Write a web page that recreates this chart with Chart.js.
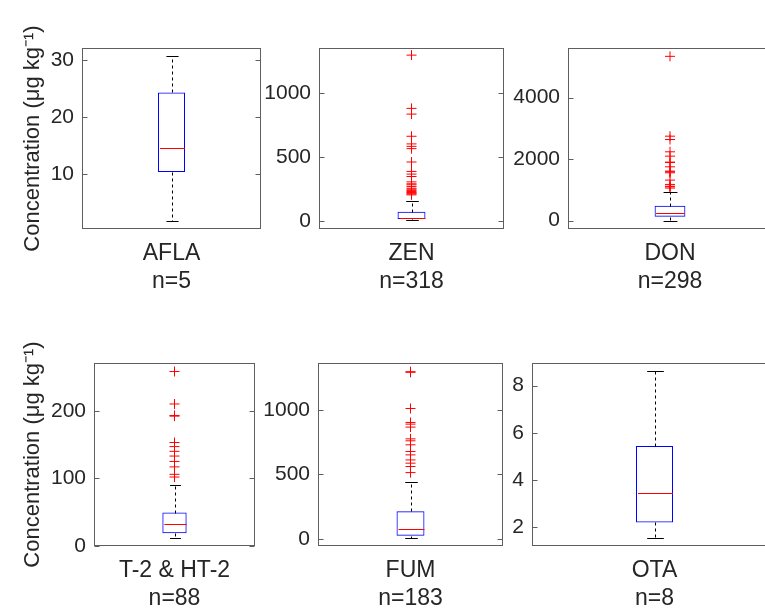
<!DOCTYPE html>
<html>
<head>
<meta charset="utf-8">
<script src="https://cdn.jsdelivr.net/npm/chart.js@4"></script>
<style>
  html, body { margin: 0; padding: 0; background: #fff; overflow: hidden; }
  #wrap { position: relative; width: 765px; height: 608px; overflow: hidden; }
  #wrap canvas { position: absolute; }
</style>
</head>
<body>
<div id="wrap"></div>
<script>
// values (µg/kg)
const categories = ['AFLA', 'ZEN', 'DON', 'T-2 & HT-2', 'FUM', 'OTA'];
const sampleSizes = [5, 318, 298, 88, 183, 8];
const whiskerLow = [1.8, 3, 0, 11.4, 5, 1.53];
const quartile1 = [10.35, 13, 130, 18.8, 26, 2.21];
const medians = [14.5, 24, 259, 32.6, 75, 3.47];
const quartile3 = [24.3, 71, 486, 49.4, 214, 5.45];
const whiskerHigh = [30.7, 158, 940, 90, 439, 8.61];
const outliers = [
  [],
  [1300, 882, 837, 663, 603, 584, 566, 461, 387, 366, 347, 305, 290, 282, 268, 255, 247, 238, 229, 222, 216, 210, 203],
  [5340, 2746, 2638, 2238, 2097, 1903, 1890, 1751, 1611, 1590, 1557, 1319, 1178, 1120, 1103, 1060],
  [258, 210, 193, 192, 153, 147, 140, 133, 125, 117, 106, 102],
  [1295, 1290, 1010, 902, 889, 866, 775, 760, 729, 677, 651, 612, 587, 561, 514],
  []
];
const yMin = [0.35, -65, -270, 0, -54, 1.21];
const yMax = [32.1, 1356, 5611, 270.6, 1362, 8.96];
const yTicks = [[10, 20, 30], [0, 500, 1000], [0, 2000, 4000], [0, 100, 200], [0, 500, 1000], [2, 4, 6, 8]];
const yTitle = 'Concentration (μg kg⁻¹)';

// where each subplot sits on the page (right column runs past the page edge)
const panels = [
  { left: 0,   top: 0,   height: 305, chartLeft: 82,  chartRight: 261, chartTop: 48,  chartBottom: 229 },
  { left: 264, top: 0,   height: 305, chartLeft: 319, chartRight: 509, chartTop: 48,  chartBottom: 229 },
  { left: 512, top: 0,   height: 305, chartLeft: 568, chartRight: 777, chartTop: 48,  chartBottom: 229 },
  { left: 0,   top: 305, height: 303, chartLeft: 94,  chartRight: 260, chartTop: 363, chartBottom: 546 },
  { left: 264, top: 305, height: 303, chartLeft: 318, chartRight: 508, chartTop: 363, chartBottom: 546 },
  { left: 510, top: 305, height: 303, chartLeft: 532, chartRight: 777, chartTop: 363, chartBottom: 546 },
];

const BOX_FRACTION = 0.151;
const TEXT = '#262626';

Chart.defaults.font.family = '"Liberation Sans", Arial, Helvetica, sans-serif';
Chart.defaults.color = TEXT;

const seg = (ctx, x1, y1, x2, y2) => {
  ctx.beginPath();
  ctx.moveTo(x1, y1);
  ctx.lineTo(x2, y2);
  ctx.stroke();
};

// whiskers, caps and median line, then the matlab style frame with inward ticks
const boxExtras = {
  id: 'boxExtras',
  afterDatasetsDraw(chart, args, opts) {
    const i = opts.index;
    const { ctx, chartArea: a, scales: { x, y } } = chart;
    const cx = Math.round(x.getPixelForValue(0)) + 0.5;
    const py = v => Math.round(y.getPixelForValue(v)) + 0.5;
    const half = a.width * BOX_FRACTION / 2;
    const cap = half * 0.45;
    ctx.save();
    ctx.lineWidth = 1;
    ctx.strokeStyle = '#000';
    ctx.setLineDash([3, 3]);
    seg(ctx, cx, py(quartile3[i]), cx, py(whiskerHigh[i]));
    seg(ctx, cx, py(quartile1[i]), cx, py(whiskerLow[i]));
    ctx.setLineDash([]);
    seg(ctx, cx - cap, py(whiskerHigh[i]), cx + cap, py(whiskerHigh[i]));
    seg(ctx, cx - cap, py(whiskerLow[i]), cx + cap, py(whiskerLow[i]));
    ctx.strokeStyle = '#ff0000';
    seg(ctx, cx - half + 1, py(medians[i]), cx + half - 1, py(medians[i]));
    ctx.restore();
  },
  afterDraw(chart) {
    const { ctx, chartArea: a, scales: { y } } = chart;
    const l = Math.round(a.left) + 0.5, r = Math.round(a.right) - 0.5;
    const t = Math.round(a.top) + 0.5, b = Math.round(a.bottom) - 0.5;
    ctx.save();
    ctx.lineWidth = 1;
    ctx.strokeStyle = '#5e5e5e';
    ctx.strokeRect(l, t, r - l, b - t);
    y.ticks.forEach(tk => {
      const yy = Math.round(y.getPixelForValue(tk.value)) + 0.5;
      seg(ctx, l, yy, l + 5, yy);
      seg(ctx, r - 5, yy, r, yy);
    });
    ctx.restore();
  }
};

const wrap = document.getElementById('wrap');

panels.forEach((p, i) => {
  const canvas = document.createElement('canvas');
  canvas.width = p.chartRight - p.left + 1;
  canvas.height = p.height;
  canvas.style.left = p.left + 'px';
  canvas.style.top = p.top + 'px';
  wrap.appendChild(canvas);

  new Chart(canvas, {
    type: 'bar',
    data: {
      labels: [[categories[i], 'n=' + sampleSizes[i]]],
      datasets: [
        {
          data: [[quartile1[i], quartile3[i]]],
          backgroundColor: 'rgba(0,0,0,0)',
          borderColor: '#0000ff',
          borderWidth: 1,
          borderSkipped: false,
          categoryPercentage: 1,
          barPercentage: BOX_FRACTION,
        },
        {
          type: 'line',
          data: outliers[i].map(v => ({ x: 0, y: v })),
          showLine: false,
          pointStyle: 'cross',
          pointRadius: 5,
          pointBorderWidth: 1,
          borderColor: '#ff0000',
          pointBorderColor: '#ff0000',
        }
      ]
    },
    options: {
      responsive: false,
      animation: false,
      events: [],
      devicePixelRatio: 1,
      layout: { padding: { left: 0, right: 1, top: p.chartTop - p.top, bottom: 0 } },
      plugins: {
        legend: { display: false },
        tooltip: { enabled: false },
        boxExtras: { index: i }
      },
      scales: {
        x: {
          grid: { display: false, drawTicks: false },
          border: { display: false },
          ticks: { font: { size: 23 }, padding: 11, maxRotation: 0, autoSkip: false },
          afterFit: s => { s.height = p.top + p.height - p.chartBottom; }
        },
        y: {
          min: yMin[i],
          max: yMax[i],
          grid: { display: false, drawTicks: false },
          border: { display: false },
          ticks: { font: { size: 21 }, padding: 8, callback: v => String(v) },
          afterBuildTicks: s => { s.ticks = yTicks[i].map(v => ({ value: v })); },
          afterFit: s => { s.width = p.chartLeft - p.left; },
          title: {
            display: i % 3 === 0,
            text: yTitle,
            font: { size: 22 },
            padding: { top: 20, bottom: 0 }
          }
        }
      }
    },
    plugins: [boxExtras]
  });
});
</script>
</body>
</html>
